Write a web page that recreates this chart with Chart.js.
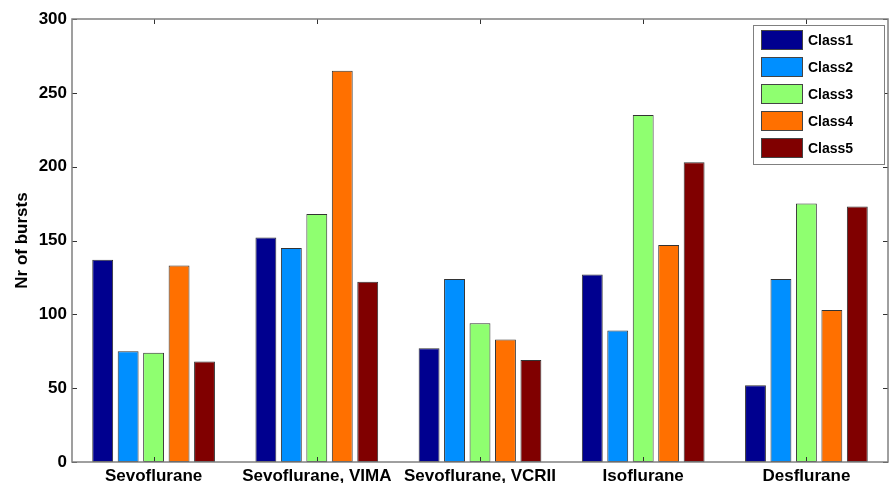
<!DOCTYPE html>
<html>
<head>
<meta charset="utf-8">
<script src="https://cdn.jsdelivr.net/npm/chart.js@4"></script>
<style>
  html, body { margin: 0; padding: 0; background: #fff; }
  canvas { display: block; }
</style>
</head>
<body>
<canvas id="burstChart" width="893" height="483"></canvas>
<script>
// categories and series
const categories = ['Sevoflurane', 'Sevoflurane, VIMA', 'Sevoflurane, VCRII', 'Isoflurane', 'Desflurane'];
const classNames = ['Class1', 'Class2', 'Class3', 'Class4', 'Class5'];
const class1 = [137, 152, 77, 127, 52];
const class2 = [75, 145, 124, 89, 124];
const class3 = [74, 168, 94, 235, 175];
const class4 = [133, 265, 83, 147, 103];
const class5 = [68, 122, 69, 203, 173];
const yTicks = [0, 50, 100, 150, 200, 250, 300];

const seriesValues = [class1, class2, class3, class4, class5];
const seriesColors = ['#00008f', '#008fff', '#8fff70', '#ff7000', '#800000'];

const FONT = '"Liberation Sans", Arial, sans-serif';

// axes box + inward tick marks, like matlab
const boxPlugin = {
    id: 'matlabBox',
    afterDatasetsDraw(chart) {
        const ctx = chart.ctx;
        const a = chart.chartArea;
        const xs = chart.scales.x;
        const ys = chart.scales.y;
        ctx.save();
        ctx.strokeStyle = '#333';
        ctx.lineWidth = 1;
        ctx.beginPath();
        yTicks.forEach(function(v) {
            const y = Math.round(ys.getPixelForValue(v)) + 0.5;
            ctx.moveTo(a.left, y); ctx.lineTo(a.left + 5, y);
            ctx.moveTo(a.right, y); ctx.lineTo(a.right - 5, y);
        });
        categories.forEach(function(c, i) {
            const x = Math.round(xs.getPixelForValue(i)) + 0.5;
            ctx.moveTo(x, a.bottom); ctx.lineTo(x, a.bottom - 5);
            ctx.moveTo(x, a.top); ctx.lineTo(x, a.top + 5);
        });
        ctx.stroke();
        ctx.strokeStyle = '#808080';
        ctx.lineWidth = 1.5;
        ctx.strokeRect(a.left, a.top, a.right - a.left, a.bottom - a.top);
        ctx.restore();
    },
    afterDraw(chart) {
        // legend box in the upper right corner
        const ctx = chart.ctx;
        const bx = 753, by = 25, bw = 131, bh = 139;
        ctx.save();
        ctx.fillStyle = '#fff';
        ctx.fillRect(bx, by, bw, bh);
        ctx.strokeStyle = '#808080';
        ctx.lineWidth = 1;
        ctx.strokeRect(bx + 0.5, by + 0.5, bw, bh);
        ctx.font = 'bold 14px ' + FONT;
        ctx.textBaseline = 'middle';
        chart.data.datasets.forEach(function(ds, i) {
            const y = by + 5 + i * 27;
            ctx.fillStyle = ds.backgroundColor;
            ctx.fillRect(761, y, 42, 20);
            ctx.strokeStyle = '#444';
            ctx.strokeRect(761.5, y + 0.5, 41, 19);
            ctx.fillStyle = '#000';
            ctx.fillText(ds.label, 808, y + 11);
        });
        ctx.restore();
    }
};

new Chart(document.getElementById('burstChart'), {
    type: 'bar',
    data: {
        labels: categories,
        datasets: classNames.map(function(name, i) {
            return {
                label: name,
                data: seriesValues[i],
                backgroundColor: seriesColors[i],
                borderColor: '#333',
                borderWidth: 1,
                borderSkipped: false,
                categoryPercentage: 0.78,
                barPercentage: 0.82
            };
        })
    },
    options: {
        responsive: false,
        animation: false,
        devicePixelRatio: 1,
        layout: { padding: { top: 19, right: 5, left: 0, bottom: 0 } },
        plugins: {
            legend: { display: false },
            tooltip: { enabled: false }
        },
        scales: {
            x: {
                grid: { display: false, drawTicks: false },
                border: { display: false },
                ticks: {
                    color: '#000',
                    padding: 4,
                    maxRotation: 0,
                    autoSkip: false,
                    font: { family: FONT, size: 17, weight: 'bold' }
                },
                afterFit: function(scale) { scale.height = 21; }
            },
            y: {
                min: 0,
                max: 300,
                grid: { display: false, drawTicks: false },
                border: { display: false },
                afterBuildTicks: function(scale) {
                    scale.ticks = yTicks.map(function(v) { return { value: v }; });
                },
                ticks: {
                    color: '#000',
                    padding: 5,
                    font: { family: FONT, size: 17, weight: 'bold' }
                },
                title: {
                    display: true,
                    text: 'Nr of bursts',
                    color: '#000',
                    padding: { top: 12, bottom: 0 },
                    font: { family: FONT, size: 17, weight: 'bold' }
                },
                afterFit: function(scale) { scale.width = 72; }
            }
        }
    },
    plugins: [boxPlugin]
});
</script>
</body>
</html>
